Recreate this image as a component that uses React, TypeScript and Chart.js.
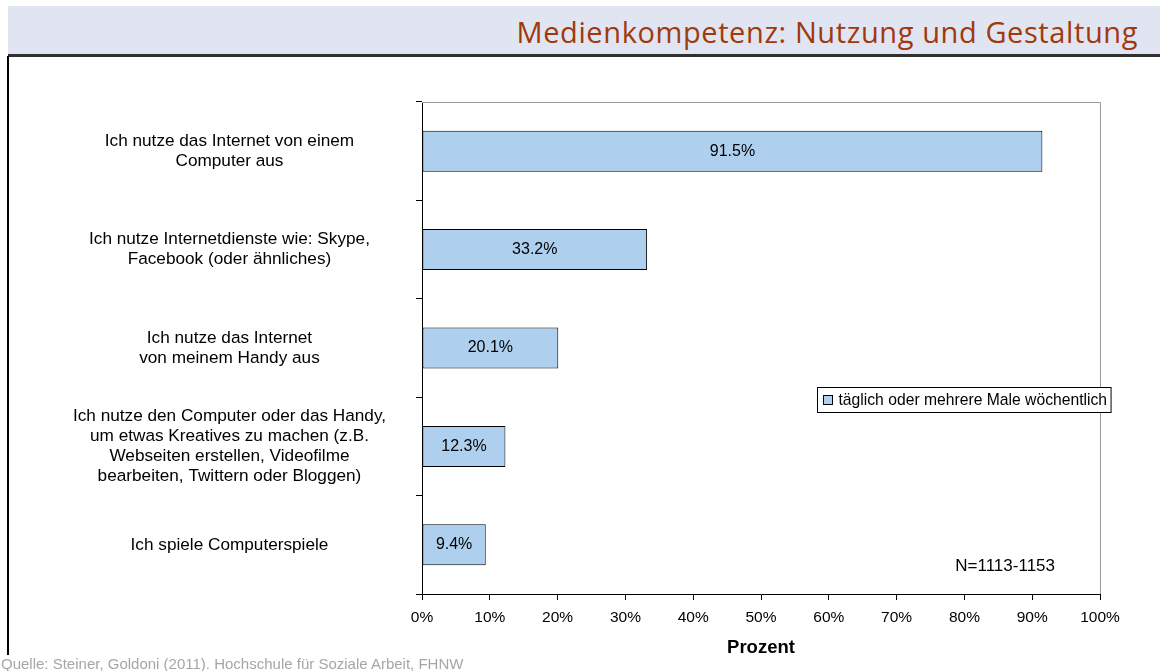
import React, { useEffect, useRef } from 'react';
import { Chart, registerables } from 'chart.js';

Chart.register(...registerables);

const pageTitle = 'Medienkompetenz: Nutzung und Gestaltung';
const categories: string[][] = [
  ['Ich nutze das Internet von einem', 'Computer aus'],
  ['Ich nutze Internetdienste wie: Skype,', 'Facebook (oder ähnliches)'],
  ['Ich nutze das Internet', 'von meinem Handy aus'],
  [
    'Ich nutze den Computer oder das Handy,',
    'um etwas Kreatives zu machen (z.B.',
    'Webseiten erstellen, Videofilme',
    'bearbeiten, Twittern oder Bloggen)',
  ],
  ['Ich spiele Computerspiele'],
];
const values: number[] = [91.5, 33.2, 20.1, 12.3, 9.4];
const seriesLabel = 'täglich oder mehrere Male wöchentlich';
const xTickValues: number[] = [0, 10, 20, 30, 40, 50, 60, 70, 80, 90, 100];
const xAxisTitle = 'Prozent';
const sampleNote = 'N=1113-1153';
const sourceNote = 'Quelle: Steiner, Goldoni (2011). Hochschule für Soziale Arbeit, FHNW';

const FONT = '"Liberation Sans", Arial, sans-serif';
const BAR_FILL = '#AED0EE';

const decorPlugin = {
  id: 'decor',
  beforeDatasetsDraw(chart: any) {
    const { ctx, chartArea } = chart;
    ctx.save();
    ctx.strokeStyle = '#9a9a9a';
    ctx.lineWidth = 1;
    ctx.beginPath();
    ctx.moveTo(chartArea.left, chartArea.top + 0.5);
    ctx.lineTo(chartArea.right + 0.5, chartArea.top + 0.5);
    ctx.lineTo(chartArea.right + 0.5, chartArea.bottom);
    ctx.stroke();
    ctx.restore();
  },
  afterDatasetsDraw(chart: any) {
    const { ctx, chartArea } = chart;
    const meta = chart.getDatasetMeta(0);
    const data = chart.data.datasets[0].data as number[];
    ctx.save();
    ctx.fillStyle = '#000';
    ctx.font = `16px ${FONT}`;
    ctx.textAlign = 'center';
    ctx.textBaseline = 'middle';
    meta.data.forEach((bar: any, i: number) => {
      const { x, y, base } = bar.getProps(['x', 'y', 'base'], true);
      ctx.fillText(`${data[i].toFixed(1)}%`, (x + base) / 2, y);
    });

    // sample size note
    ctx.font = `17px ${FONT}`;
    ctx.textAlign = 'right';
    ctx.fillText(sampleNote, chartArea.right - 45, chartArea.bottom - 28);

    // legend box
    const label = chart.data.datasets[0].label as string;
    ctx.font = `15.7px ${FONT}`;
    const tw = ctx.measureText(label).width;
    const bw = tw + 25;
    const bh = 25;
    const bx = Math.round(chartArea.right + 11 - bw) + 0.5;
    const by = 387.5;
    ctx.fillStyle = '#fff';
    ctx.fillRect(bx, by, bw, bh);
    ctx.strokeStyle = '#000';
    ctx.lineWidth = 1;
    ctx.strokeRect(bx, by, bw, bh);
    ctx.fillStyle = BAR_FILL;
    ctx.fillRect(bx + 6, by + 8, 9, 9);
    ctx.strokeRect(bx + 6, by + 8, 9, 9);
    ctx.fillStyle = '#000';
    ctx.textAlign = 'left';
    ctx.fillText(label, bx + 21, by + bh / 2 + 1);
    ctx.restore();
  },
};

export default function App() {
  const canvasRef = useRef<HTMLCanvasElement | null>(null);

  useEffect(() => {
    if (!canvasRef.current) return;
    const chart = new Chart(canvasRef.current, {
      type: 'bar',
      data: {
        labels: categories,
        datasets: [
          {
            label: seriesLabel,
            data: values,
            backgroundColor: BAR_FILL,
            borderColor: '#000',
            borderWidth: 1,
            borderSkipped: false,
            barPercentage: 0.417,
            categoryPercentage: 1,
          },
        ],
      },
      options: {
        indexAxis: 'y',
        animation: false,
        responsive: false,
        devicePixelRatio: 1,
        layout: { padding: { left: 0, top: 102, right: 60, bottom: 0 } },
        plugins: {
          legend: { display: false },
          tooltip: { enabled: false },
        },
        scales: {
          x: {
            type: 'linear',
            min: 0,
            max: 100,
            afterBuildTicks: (scale: any) => {
              scale.ticks = xTickValues.map((v) => ({ value: v }));
            },
            afterFit: (scale: any) => {
              scale.height = 77;
            },
            grid: {
              drawOnChartArea: false,
              drawTicks: true,
              tickLength: 6,
              color: '#000',
            },
            border: { display: true, color: '#000', width: 1 },
            ticks: {
              color: '#000',
              padding: 8,
              maxRotation: 0,
              font: { family: FONT, size: 15.5 },
              callback: (v: any) => `${v}%`,
            },
            title: {
              display: true,
              text: xAxisTitle,
              color: '#000',
              font: { family: FONT, size: 18.5, weight: 'bold' },
              padding: { top: 0, bottom: 12 },
            },
          },
          y: {
            type: 'category',
            afterFit: (scale: any) => {
              scale.width = 422;
            },
            grid: {
              offset: true,
              drawOnChartArea: false,
              drawTicks: true,
              tickLength: 6,
              color: '#000',
            },
            border: { display: true, color: '#000', width: 1 },
            ticks: {
              color: '#000',
              autoSkip: false,
              crossAlign: 'center',
              padding: 30,
              font: { family: FONT, size: 17.2, lineHeight: 1.17 },
            },
          },
        },
      },
      plugins: [decorPlugin],
    } as any);
    return () => chart.destroy();
  }, []);

  return (
    <div style={{ position: 'absolute', left: 0, top: 0, width: 1160, height: 671, background: '#fff', overflow: 'hidden' }}>
      <div style={{ position: 'absolute', left: 8, top: 6, width: 1152, height: 48, background: '#E1E5F1' }} />
      <div
        style={{
          position: 'absolute',
          right: 22,
          top: 12,
          fontFamily: '"Open Sans", sans-serif',
          fontSize: 29,
          letterSpacing: 0.6,
          lineHeight: 'normal',
          color: '#A0390C',
          whiteSpace: 'nowrap',
        }}
      >
        {pageTitle}
      </div>
      <div style={{ position: 'absolute', left: 8, top: 54, width: 1152, height: 2.5, background: '#303030' }} />
      <div style={{ position: 'absolute', left: 7, top: 56, width: 1.5, height: 599, background: '#000' }} />
      <canvas
        ref={canvasRef}
        width={1160}
        height={671}
        style={{ position: 'absolute', left: 0, top: 0, width: 1160, height: 671 }}
      />
      <div
        style={{
          position: 'absolute',
          left: 1,
          top: 654.5,
          fontFamily: FONT,
          fontSize: 15,
          lineHeight: 1.15,
          color: '#A6A6A6',
          whiteSpace: 'nowrap',
        }}
      >
        {sourceNote}
      </div>
    </div>
  );
}
